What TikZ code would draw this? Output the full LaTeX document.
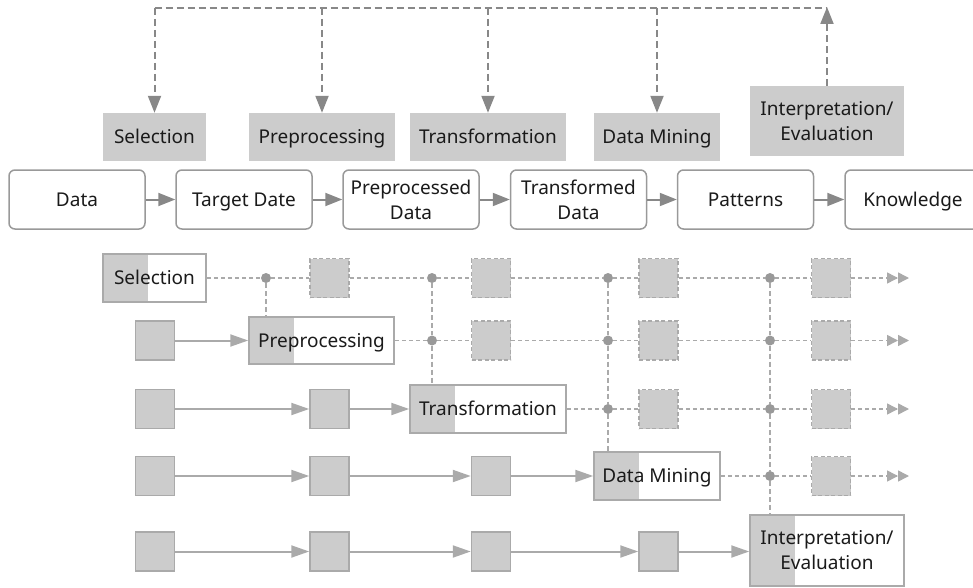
\documentclass[tikz,border=0pt]{standalone}
\usepackage{fontspec}
\setmainfont{Noto Sans}
\usetikzlibrary{arrows.meta}
\definecolor{boxgray}{HTML}{CCCCCC}
\definecolor{edgegray}{HTML}{AAAAAA}
\definecolor{dotgray}{HTML}{999999}
\definecolor{arrgray}{HTML}{888888}
\definecolor{txt}{HTML}{1A1A1A}
\begin{document}
\begin{tikzpicture}[x=1pt,y=-1pt,
  font=\fontsize{19}{25}\selectfont, text=txt,
  one/.style={text height=13.6pt, text depth=0pt},
  lbl/.style={fill=boxgray, inner sep=0, align=center},
  mainbox/.style={draw=dotgray, line width=1.5pt, rounded corners=6pt, minimum width=136pt, minimum height=59pt, align=center, inner sep=0, fill=white},
  sq/.style={fill=boxgray, draw=edgegray, line width=1.5pt, minimum size=39pt, inner sep=0},
  dsq/.style={sq, dash pattern=on 4pt off 2.5pt},
  stepbox/.style={draw=edgegray, fill=white, line width=1.5pt, inner sep=0, align=center,
    path picture={\fill[boxgray] (path picture bounding box.north west) rectangle ([xshift=45pt]path picture bounding box.south west);}},
  dot/.style={circle, fill=dotgray, inner sep=0, minimum size=10pt},
  topdash/.style={draw=arrgray, line width=2pt, dash pattern=on 7pt off 4pt},
  toparrow/.style={topdash, -{Triangle[length=17pt,width=13pt]}},
  mainarrow/.style={draw=arrgray, line width=2pt, -{Triangle[length=17pt,width=13pt]}},
  flow/.style={draw=edgegray, line width=2pt, -{Triangle[length=18pt,width=12pt]}},
  dotline/.style={draw=edgegray, line width=1.5pt, dash pattern=on 4pt off 3pt},
  endline/.style={dotline, -{Triangle[length=11pt,width=11pt]Triangle[length=11pt,width=11pt]}},
  vdash/.style={draw=edgegray, line width=1.5pt, dash pattern=on 5pt off 3pt},
]
\useasboundingbox (0,0) rectangle (973,588);

% ---- top label boxes
\node[lbl, one, minimum width=103pt, minimum height=48pt] (lSel) at (154.5,137) {Selection};
\node[lbl, one, minimum width=146pt, minimum height=48pt] (lPre) at (322,137) {Preprocessing};
\node[lbl, one, minimum width=156pt, minimum height=48pt] (lTra) at (488,137) {Transformation};
\node[lbl, one, minimum width=126pt, minimum height=48pt] (lDM) at (657,137) {Data Mining};
\node[lbl, minimum width=154pt, minimum height=70pt] (lInt) at (827,121) {Interpretation/\\Evaluation};

\coordinate (top) at (0,8);
\draw[topdash] (lSel.north |- top) -- (lInt.north |- top);
\draw[toparrow] (lSel.north |- top) -- (lSel.north);
\draw[toparrow] (lPre.north |- top) -- (lPre.north);
\draw[toparrow] (lTra.north |- top) -- (lTra.north);
\draw[toparrow] (lDM.north |- top) -- (lDM.north);
\draw[toparrow] (lInt.north) -- ([yshift=1pt]lInt.north |- top);

% ---- main row
\node[mainbox, one] (m1) at (77,199.5) {Data};
\node[mainbox, one] (m2) at (244,199.5) {Target Date};
\node[mainbox] (m3) at (411,199.5) {Preprocessed\\Data};
\node[mainbox] (m4) at (578.5,199.5) {Transformed\\Data};
\node[mainbox, one] (m5) at (745.5,199.5) {Patterns};
\node[mainbox, one] (m6) at (913,199.5) {Knowledge};
\draw[mainarrow] (m1) -- (m2);
\draw[mainarrow] (m2) -- (m3);
\draw[mainarrow] (m3) -- (m4);
\draw[mainarrow] (m4) -- (m5);
\draw[mainarrow] (m5) -- (m6);

% ---- bottom grid: step boxes
\node[stepbox, one, minimum width=103pt, minimum height=48pt] (bSel) at (154.5,278) {Selection};
\node[stepbox, one, minimum width=145pt, minimum height=47pt] (bPre) at (321.5,340.5) {Preprocessing};
\node[stepbox, one, minimum width=156pt, minimum height=48pt] (bTra) at (488,409) {Transformation};
\node[stepbox, one, minimum width=126pt, minimum height=48pt] (bDM) at (657,476) {Data Mining};
\node[stepbox, minimum width=154pt, minimum height=71pt] (bInt) at (827,550.5) {Interpretation/\\Evaluation};

% solid squares
\node[sq] (s20) at (155,340.5) {};
\node[sq] (s30) at (155,409) {};
\node[sq] (s31) at (329.5,409) {};
\node[sq] (s40) at (155,476) {};
\node[sq] (s41) at (329.5,476) {};
\node[sq] (s42) at (491,476) {};
\node[sq] (s50) at (155,551.5) {};
\node[sq] (s51) at (329.5,551.5) {};
\node[sq] (s52) at (491,551.5) {};
\node[sq] (s53) at (658.5,551.5) {};

% dashed squares
\node[dsq] (q11) at (329.5,278) {};
\node[dsq] (q12) at (491,278) {};
\node[dsq] (q13) at (658.5,278) {};
\node[dsq] (q14) at (831,278) {};
\node[dsq] (q22) at (491,340.5) {};
\node[dsq] (q23) at (658.5,340.5) {};
\node[dsq] (q24) at (831,340.5) {};
\node[dsq] (q33) at (658.5,409) {};
\node[dsq] (q34) at (831,409) {};
\node[dsq] (q44) at (831,476) {};

% dots
\node[dot] (d11) at (266,278) {};
\node[dot] (d12) at (432,278) {};
\node[dot] (d13) at (608,278) {};
\node[dot] (d14) at (770,278) {};
\node[dot] (d22) at (432,340.5) {};
\node[dot] (d23) at (608,340.5) {};
\node[dot] (d24) at (770,340.5) {};
\node[dot] (d33) at (608,409) {};
\node[dot] (d34) at (770,409) {};
\node[dot] (d44) at (770,476) {};

% end points
\coordinate (e1) at (909,278);
\coordinate (e2) at (909,340.5);
\coordinate (e3) at (909,409);
\coordinate (e4) at (909,476);

% solid flows
\draw[flow] (s20) -- (bPre);
\draw[flow] (s30) -- (s31);
\draw[flow] (s31) -- (bTra);
\draw[flow] (s40) -- (s41);
\draw[flow] (s41) -- (s42);
\draw[flow] (s42) -- (bDM);
\draw[flow] (s50) -- (s51);
\draw[flow] (s51) -- (s52);
\draw[flow] (s52) -- (s53);
\draw[flow] (s53) -- (s53 -| bInt.west);

% dotted rows
\draw[dotline] (bSel) -- (d11) -- (q11) -- (d12) -- (q12) -- (d13) -- (q13) -- (d14) -- (q14);
\draw[endline] (q14) -- (e1);
\draw[dotline] (bPre) -- (d22) -- (q22) -- (d23) -- (q23) -- (d24) -- (q24);
\draw[endline] (q24) -- (e2);
\draw[dotline] (bTra) -- (d33) -- (q33) -- (d34) -- (q34);
\draw[endline] (q34) -- (e3);
\draw[dotline] (bDM) -- (d44) -- (q44);
\draw[endline] (q44) -- (e4);

% vertical dashed
\draw[vdash] (d11) -- (d11 |- bPre.north);
\draw[vdash] (d12) -- (d22) -- (d22 |- bTra.north);
\draw[vdash] (d13) -- (d23) -- (d33) -- (d33 |- bDM.north);
\draw[vdash] (d14) -- (d24) -- (d34) -- (d44) -- (d44 |- bInt.north);
\end{tikzpicture}
\end{document}
